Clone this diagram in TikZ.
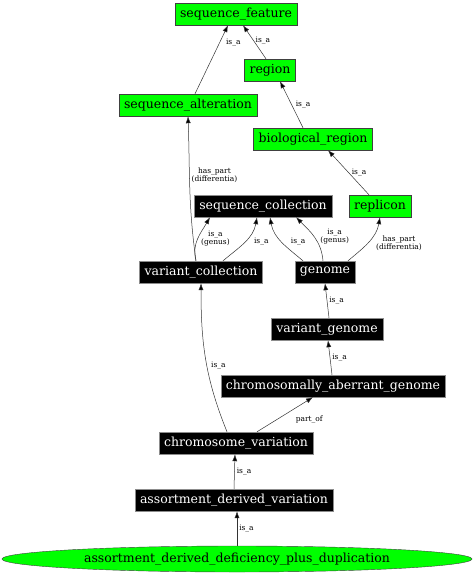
\documentclass[tikz,border=0pt]{standalone}
\usepackage{fontspec}
\setmainfont{DejaVu Serif}
\usetikzlibrary{shapes.geometric, arrows.meta}
\definecolor{nodegreen}{HTML}{00FF00}
\tikzset{
	term/.style={draw=black!75, fill=nodegreen, minimum height=22, inner xsep=5, inner ysep=2, font=\fontsize{12.5}{14}\selectfont},
	dterm/.style={draw=black!45, fill=black, text=white, minimum height=22, inner xsep=5, inner ysep=2, font=\fontsize{12.5}{14}\selectfont},
	lbl/.style={font=\fontsize{7.5}{8}\selectfont, align=center, inner sep=1},
	rel/.style={-{Latex[length=7, width=5, fill=black]}, draw=black!80, line width=0.5}
}
\begin{document}
\begin{tikzpicture}[x=1pt, y=-1pt]
	\useasboundingbox (0,0) rectangle (474,576);
	
	\node[term] (sf) at (236,14) {sequence\_feature};
	\node[term] (reg) at (270,70) {region};
	\node[term] (sa) at (188,105) {sequence\_alteration};
	\node[term] (br) at (313,139) {biological\_region};
	\node[term] (rep) at (380,206) {replicon};
	\node[dterm] (sc) at (263,206) {sequence\_collection};
	\node[dterm] (vc) at (201,272) {variant\_collection};
	\node[dterm] (gen) at (325,272) {genome};
	\node[dterm] (vg) at (327,329) {variant\_genome};
	\node[dterm] (cag) at (333,386) {chromosomally\_aberrant\_genome};
	\node[dterm] (cv) at (236,443) {chromosome\_variation};
	\node[dterm] (adv) at (234,500) {assortment\_derived\_variation};
	\node[term, ellipse, inner xsep=0, minimum width=470, minimum height=26] (addpd) at (237,559) {assortment\_derived\_deficiency\_plus\_duplication};
	
	% straight is_a links
	\draw[rel] ([xshift=7]sa.north) -- node[lbl, pos=0.75, right=5] {is\_a} ([xshift=-8]sf.south);
	\draw[rel] ([xshift=-4]reg.north) -- node[lbl, pos=0.55, right=1] {is\_a} ([xshift=7]sf.south);
	\draw[rel] ([xshift=-10]br.north) -- node[lbl, pos=0.5, right=3] {is\_a} ([xshift=10]reg.south);
	\draw[rel] ([xshift=-11]rep.north) -- node[lbl, pos=0.5, right=2] {is\_a} ([xshift=15]br.south);
	\draw[rel] ([xshift=2]vg.north) -- node[lbl, pos=0.5, right=1] {is\_a} (gen.south);
	\draw[rel] ([xshift=-1]cag.north) -- node[lbl, pos=0.5, right=1] {is\_a} ([xshift=1]vg.south);
	\draw[rel] (adv.north) -- node[lbl, right=1] {is\_a} ([xshift=-1]cv.south);
	\draw[rel] (addpd.north) -- node[lbl, right=1] {is\_a} ([xshift=3]adv.south);
	\draw[rel] ([xshift=21]cv.north) -- node[lbl, pos=0.6, below right=4] {part\_of} ([xshift=-20]cag.south);
	
	% curved links
	\draw[rel] ([xshift=-5]vc.north) to[out=98, in=-88] node[lbl, pos=0.6, right=1] {has\_part\\(differentia)} (sa.south);
	\draw[rel] ([xshift=-5]vc.north) to[out=105, in=-120] node[lbl, pos=0.5, right=2] {is\_a\\(genus)} ([xshift=-53]sc.south);
	\draw[rel] ([xshift=22]vc.north) to[out=40, in=-100] node[lbl, pos=0.5, right=8] {is\_a} ([xshift=-6]sc.south);
	\draw[rel] ([xshift=-22]gen.north) to[out=140, in=-80] node[lbl, pos=0.5, right=8] {is\_a} ([xshift=7]sc.south);
	\draw[rel] ([xshift=-2]gen.north) to[out=95, in=-45] node[lbl, pos=0.5, right=5] {is\_a\\(genus)} ([xshift=33]sc.south);
	\draw[rel] ([xshift=23]gen.north) to[out=40, in=-100] node[lbl, pos=0.45, right=8] {has\_part\\(differentia)} (rep.south);
	\draw[rel] ([xshift=-9]cv.north) to[out=112, in=-90] node[lbl, pos=0.45, right=3] {is\_a} (vc.south);
	
\end{tikzpicture}
\end{document}
